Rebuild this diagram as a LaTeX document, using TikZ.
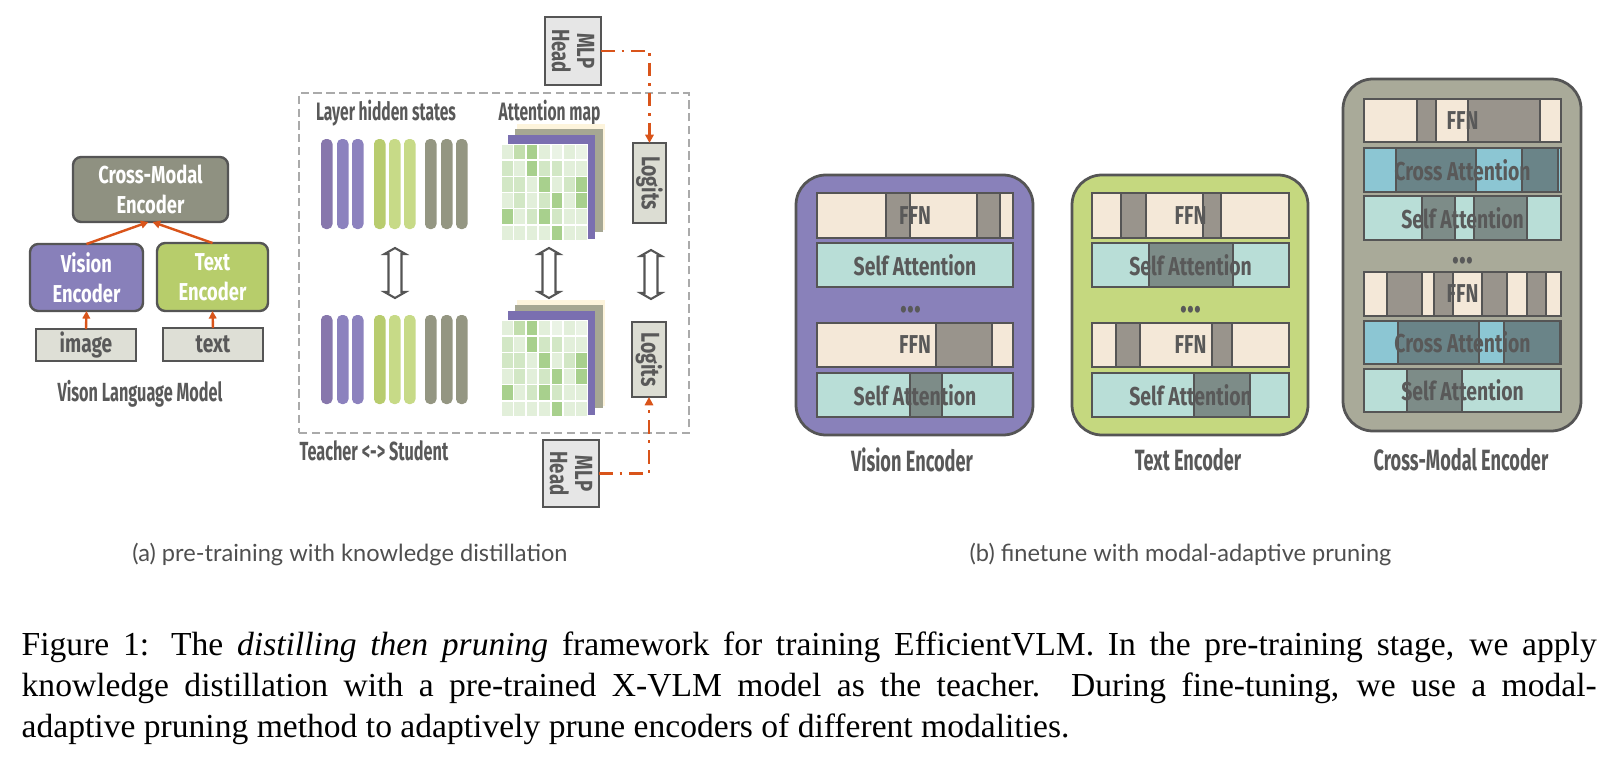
\documentclass[tikz,border=0pt]{standalone}
\usepackage{fontspec}
\setmainfont{Liberation Serif}
\newfontfamily\dfont{Fira Sans}[FakeStretch=0.75]
\newfontfamily\dfontc{Fira Sans}[FakeStretch=0.62]
\newfontfamily\subfont{Lato}
\usetikzlibrary{arrows.meta,calc}
\definecolor{bord}{HTML}{555555}
\definecolor{dgray}{HTML}{595959}
\definecolor{cmgray}{HTML}{8F9181}
\definecolor{vpurple}{HTML}{8880BA}
\definecolor{tgreen}{HTML}{B7CD6B}
\definecolor{inbox}{HTML}{DEDFD6}
\definecolor{orng}{HTML}{D9541A}
\definecolor{mlpfill}{HTML}{E6E6E6}
\definecolor{lgfill}{HTML}{DCDDD3}
\definecolor{barp1}{HTML}{8777AC}
\definecolor{barp}{HTML}{8C82BE}
\definecolor{barg1}{HTML}{B8CC6E}
\definecolor{barg}{HTML}{C7DA87}
\definecolor{barm}{HTML}{949682}
\definecolor{am0}{HTML}{E2EFDA}
\definecolor{am1}{HTML}{D2E7C5}
\definecolor{am2}{HTML}{C2DEAD}
\definecolor{am3}{HTML}{A8D08D}
\definecolor{am4}{HTML}{EAF3E5}
\definecolor{amcream}{HTML}{FDF4DC}
\definecolor{amgray}{HTML}{A6A793}
\definecolor{amprp}{HTML}{7A6FB0}
\definecolor{panelv}{HTML}{8981BA}
\definecolor{panelt}{HTML}{C5D87F}
\definecolor{panelc}{HTML}{A9AA99}
\definecolor{ffn}{HTML}{F4E8D8}
\definecolor{sa}{HTML}{B9DED7}
\definecolor{ca}{HTML}{8CC6D3}
\definecolor{pffn}{HTML}{99948C}
\definecolor{psa}{HTML}{7D8C88}
\definecolor{pca}{HTML}{6A8488}
\definecolor{frame}{HTML}{AAAAAA}
\definecolor{subgray}{HTML}{4F4F4F}
\newcommand\cbox[6]{\node[#2,minimum width={(#5-#3)*0.29pt},minimum height={(#6-#4)*0.29pt}] (#1) at ({(#3+#5)/2},{(#4+#6)/2})}
\newcommand\mylayer[9]{%
  \cbox{#1}{layer,fill=#6}{#2}{#4}{#3}{#5}{};
  \foreach \pxa/\pxb in {#8}{\draw[prune,fill=#7] (\pxa,#4) rectangle (\pxb,#5);}
  \draw[layerline] (#1.north west) rectangle (#1.south east);
  \node[ltext] at (#1.center) {#9};}
\newcommand\attmap[2]{%
  \begin{scope}[shift={(#1,#2)}]
    \fill[amcream] (16,-20) rectangle (104,86);
    \fill[amgray] (14,-15) rectangle (102,88);
    \fill[amprp] (7,-9) rectangle (94,95);
    \fill[white] (0,0) rectangle (87,97);
    \foreach \row [count=\r from 0] in {{0,2,3,0,4,0,4},{1,0,3,1,1,0,0},{1,1,0,3,0,1,3},{0,1,0,1,3,0,3},{3,0,1,3,1,0,0},{0,0,0,0,3,0,0}}{
      \foreach \v [count=\c from 0] in \row {
        \fill[am\v] ({\c*12.43+0.8},{\r*16.17+0.8}) rectangle ({(\c+1)*12.43-0.8},{(\r+1)*16.17-0.8});
      }
    }
  \end{scope}}
\newcommand\dblarr[3]{\draw[draw=bord,fill=white,line width=0.6pt,line join=miter]
  (#1,#2) -- ({#1+10.5},{#2+6}) -- ({#1+6.5},{#2+6}) -- ({#1+6.5},{#3-6}) -- ({#1+10.5},{#3-6}) -- (#1,#3)
  -- ({#1-10.5},{#3-6}) -- ({#1-6.5},{#3-6}) -- ({#1-6.5},{#2+6}) -- ({#1-10.5},{#2+6}) -- cycle;}
\begin{document}
\begin{tikzpicture}[x=0.29pt,y=-0.29pt,
  rbox/.style={draw=bord,line width=0.7pt,rounded corners=2.4pt,inner sep=0pt,outer sep=0pt},
  sbox/.style={draw=bord,line width=0.7pt,inner sep=0pt,outer sep=0pt},
  wtext/.style={font=\dfont\bfseries\fontsize{7.1}{8.7}\selectfont,text=white,align=center},
  gtext/.style={font=\dfont\bfseries\fontsize{7.4}{8.7}\selectfont,text=dgray,align=center},
  ltext/.style={font=\dfont\bfseries\fontsize{7.5}{8.7}\selectfont,text=dgray,inner sep=0pt},
  htext/.style={font=\dfontc\bfseries\fontsize{7.3}{8.7}\selectfont,text=dgray,inner sep=0pt},
  btext/.style={font=\dfontc\bfseries\fontsize{7.6}{9}\selectfont,text=dgray,inner sep=0pt},
  etext/.style={font=\dfontc\bfseries\fontsize{8.5}{9}\selectfont,text=dgray,inner sep=0pt},
  dots/.style={font=\dfont\bfseries\fontsize{11}{11}\selectfont,text=dgray,inner sep=0pt},
  layer/.style={inner sep=0pt,outer sep=0pt},
  layerline/.style={draw=bord,line width=0.75pt},
  prune/.style={draw=bord,line width=0.6pt},
  panel/.style={draw=bord,line width=0.8pt,rounded corners=8.7pt,inner sep=0pt,outer sep=0pt},
  oarr/.style={draw=orng,line width=0.7pt,-{Triangle[length=2.2pt,width=2.2pt]}},
  ddash/.style={draw=orng,line width=0.7pt,dash pattern=on 4pt off 2pt on 0.7pt off 2pt,-{Triangle[length=2.4pt,width=2.4pt]}},
  capt/.style={font=\fontsize{9.74}{11.5}\selectfont,inner sep=0pt},
  subc/.style={font=\subfont\fontsize{6.85}{8}\selectfont,text=subgray,inner sep=0pt}]
\fill[white] (0,0) rectangle (1617,761);
\useasboundingbox (0,0) rectangle (1617,761);

% ---------- (a) left: VLM ----------
\cbox{cme}{rbox,fill=cmgray}{73}{157}{228}{222}{};
\node[wtext] at (cme.center) {Cross-Modal\\Encoder};
\cbox{ve}{rbox,fill=vpurple}{30}{244}{143}{311}{};
\node[wtext] at (ve.center) {Vision\\Encoder};
\cbox{te}{rbox,fill=tgreen}{157}{243}{268}{311}{};
\node[wtext] at (te.center) {Text\\Encoder};
\cbox{img}{sbox,fill=inbox}{36}{329}{136}{361}{};
\node[gtext] at (img.center) {image};
\cbox{txt}{sbox,fill=inbox}{163}{328}{263}{361}{};
\node[gtext] at (txt.center) {text};
\draw[oarr] (img.north) -- (ve.south);
\draw[oarr] (txt.north) -- (te.south);
\draw[oarr] (ve.north) -- ($(cme.south)+(-2,0)$);
\draw[oarr] (te.north) -- ($(cme.south)+(2,0)$);
\node[btext,anchor=base] (vlm) at (140,401.5) {Vison Language Model};

% ---------- (a) distillation ----------
\cbox{frm}{draw=frame,line width=0.8pt,dash pattern=on 2.4pt off 1.3pt,inner sep=0pt}{299}{93}{689}{433}{};
\node[htext,anchor=base] (lhs) at (386,120) {Layer hidden states};
\node[htext,anchor=base] (amap) at (549.5,120.5) {Attention map};
\foreach \x/\c in {321/barp1,337/barp,352/barp,374/barg1,389/barg,404/barg,425/barm,441/barm,456/barm}{
  \fill[\c,rounded corners=1.4pt] (\x,139) rectangle ++(11.5,90);
  \fill[\c,rounded corners=1.4pt] (\x,315) rectangle ++(11.5,89);
}
\attmap{501}{144}
\attmap{501}{320}
\cbox{lg1}{sbox,fill=lgfill}{633}{143}{666}{223}{};
\node[ltext,rotate=-90] at (lg1.center) {Logits};
\cbox{lg2}{sbox,fill=lgfill}{632}{322}{666}{397}{};
\node[ltext,rotate=-90] at (lg2.center) {Logits};
\dblarr{395}{248}{298}
\dblarr{549}{248}{298}
\dblarr{651}{250}{299}
\cbox{mlp1}{sbox,fill=mlpfill}{545}{17}{601}{85}{};
\node[ltext,rotate=-90,align=center,font=\dfont\bfseries\fontsize{7.2}{7.3}\selectfont] at (mlp1.center) {MLP\\Head};
\cbox{mlp2}{sbox,fill=mlpfill}{543}{440}{599}{507}{};
\node[ltext,rotate=-90,align=center,font=\dfont\bfseries\fontsize{7.2}{7.3}\selectfont] at (mlp2.center) {MLP\\Head};
\draw[ddash] (mlp1.east) -| (lg1.north);
\draw[ddash] (mlp2.east) -| (lg2.south);
\node[btext,anchor=base] (ts) at (374,460) {Teacher <-> Student};

% ---------- (b) vision encoder ----------
\cbox{vpan}{panel,fill=panelv}{796}{175}{1033}{435}{};
\mylayer{v1}{817}{1013}{193}{238}{ffn}{pffn}{886/910,977/1000}{FFN}
\mylayer{v2}{817}{1013}{243}{287}{sa}{sa}{817/817}{Self Attention}
\node[dots] at (911,310) {...};
\mylayer{v3}{817}{1013}{323}{367}{ffn}{pffn}{936/992}{FFN}
\mylayer{v4}{817}{1013}{373}{417}{sa}{psa}{910/942}{Self Attention}
\node[etext,anchor=base] (vlab) at (912,471) {Vision Encoder};

% ---------- (b) text encoder ----------
\cbox{tpan}{panel,fill=panelt}{1072}{175}{1308}{435}{};
\mylayer{t1}{1092}{1289}{193}{238}{ffn}{pffn}{1121/1146,1203/1221}{FFN}
\mylayer{t2}{1092}{1289}{243}{287}{sa}{psa}{1149/1233}{Self Attention}
\node[dots] at (1191,310) {...};
\mylayer{t3}{1092}{1289}{323}{367}{ffn}{pffn}{1116/1140,1212/1232}{FFN}
\mylayer{t4}{1092}{1289}{373}{417}{sa}{psa}{1194/1250}{Self Attention}
\node[etext,anchor=base] (tlab) at (1188,470.5) {Text Encoder};

% ---------- (b) cross-modal encoder ----------
\cbox{cpan}{panel,fill=panelc}{1343}{79}{1581}{431}{};
\mylayer{c1}{1364}{1561}{99}{142}{ffn}{pffn}{1417/1436,1468/1540}{FFN}
\mylayer{c2}{1364}{1561}{148}{192}{ca}{pca}{1396/1476,1522/1558}{Cross Attention}
\mylayer{c3}{1364}{1561}{196}{240}{sa}{psa}{1422/1455,1474/1527}{Self Attention}
\node[dots] at (1463,261) {...};
\mylayer{c4}{1364}{1561}{272}{316}{ffn}{pffn}{1387/1422,1434/1453,1482/1507,1527/1546}{FFN}
\mylayer{c5}{1364}{1561}{321}{364}{ca}{pca}{1398/1479,1504/1560}{Cross Attention}
\mylayer{c6}{1364}{1561}{369}{412}{sa}{psa}{1407/1462}{Self Attention}
\node[etext,anchor=base] (clab) at (1461,470) {Cross-Modal Encoder};

% ---------- subcaptions ----------
\node[subc,anchor=base] (sca) at (350,561) {(a) pre-training with knowledge distillation};
\node[subc,anchor=base] (scb) at (1180.5,561) {(b) finetune with modal-adaptive pruning};

% ---------- caption ----------
\node[capt,anchor=base west] (cap1) at (21,655) {\makebox[456.75pt][s]{Figure 1: The \textit{distilling then pruning} framework for training EfficientVLM. In the pre-training stage, we apply}};
\node[capt,anchor=base west] (cap2) at (21,696) {\makebox[456.75pt][s]{knowledge distillation with a pre-trained X-VLM model as the teacher.\ \ During fine-tuning, we use a modal-}};
\node[capt,anchor=base west] (cap3) at (21,737) {adaptive pruning method to adaptively prune encoders of different modalities.};
\end{tikzpicture}
\end{document}
